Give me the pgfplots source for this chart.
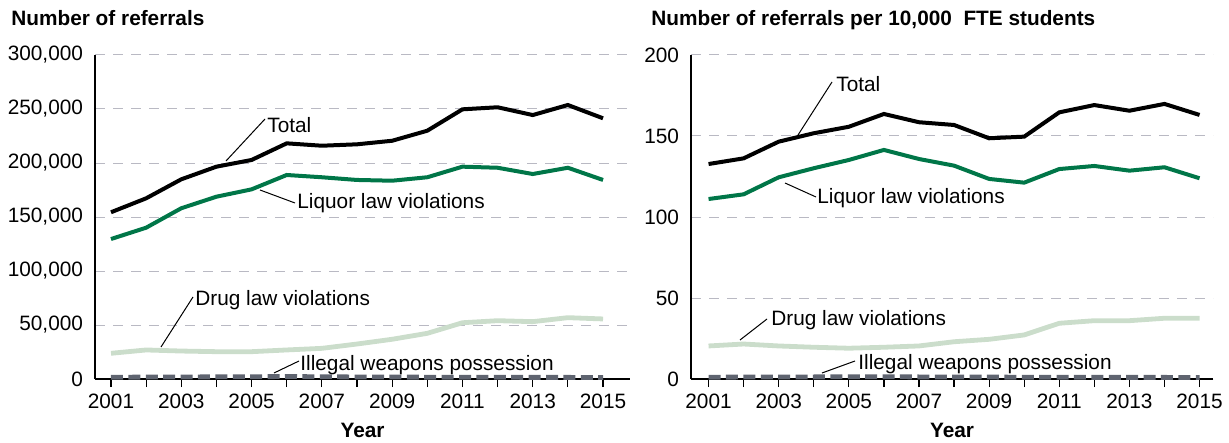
\documentclass[border=0pt]{standalone}
\usepackage{fontspec}
\setmainfont{Liberation Sans}
\usepackage{pgfplots}
\usepackage{pgfplotstable}
\pgfplotsset{compat=1.18}
\definecolor{liq}{RGB}{0,118,72}
\definecolor{drug}{RGB}{203,221,203}
\definecolor{weap}{RGB}{95,100,112}
\definecolor{gridc}{RGB}{185,185,195}
\newcommand{\lab}{\fontsize{10.4bp}{12bp}\selectfont}

\pgfplotstableread{
year total liquor drug weapons
2001 154400 129600 23800 1600
2002 167300 140100 26900 1800
2003 184900 158100 25900 1900
2004 196600 168800 25300 2000
2005 202800 175600 25300 2100
2006 218200 188900 26900 2300
2007 216000 186800 28400 2100
2008 217300 184300 32400 1900
2009 220600 183600 36800 1800
2010 229900 186800 42300 1700
2011 249700 196600 52100 1700
2012 251600 195600 54000 1600
2013 244400 189800 53100 1500
2014 253700 195600 56800 1500
2015 241400 184300 55600 1400
}\countdata

\pgfplotstableread{
year total liquor drug weapons
2001 132.7 111.1 20.4 1.1
2002 136.2 114.0 21.6 1.2
2003 146.5 124.5 20.4 1.2
2004 151.7 130.1 19.6 1.3
2005 155.7 135.2 19.0 1.4
2006 163.6 141.4 19.6 1.4
2007 158.5 135.8 20.4 1.3
2008 156.8 131.7 23.0 1.2
2009 148.6 123.5 24.5 1.2
2010 149.6 121.2 27.2 1.1
2011 164.6 129.6 34.4 1.1
2012 169.1 131.5 36.0 1.0
2013 165.6 128.6 36.0 1.0
2014 169.8 130.7 37.5 1.0
2015 163.0 123.9 37.5 0.9
}\ratedata

\pgfplotsset{
  mystyle/.style={
    scale only axis,
    height=162bp,
    axis x line*=bottom,
    axis y line*=left,
    axis line style={line width=0.6bp, black},
    xtick={2001,2003,...,2015},
    xticklabels={2001,2003,2005,2007,2009,2011,2013,2015},
    minor xtick={2002,2004,...,2014},
    tick align=outside,
    major tick length=4bp,
    minor tick length=4bp,
    xtick style={black, line width=0.6bp},
    ytick style={draw=none},
    ymajorgrids,
    major grid style={gridc, dash pattern=on 5bp off 4bp, line width=0.5bp},
    tick label style={font=\lab},
    yticklabel style={xshift=1.5bp},
    scaled ticks=false,
    ymin=0,
    clip=false,
  },
  tot/.style={black, line width=2bp},
  liqs/.style={liq, line width=2bp},
  drugs/.style={drug, line width=2.4bp},
  weaps/.style={weap, line width=2.4bp, dash pattern=on 6bp off 2.7bp},
}

\begin{document}
\begin{tikzpicture}[x=0.5bp, y=-0.5bp]
\useasboundingbox (0,0) rectangle (1229,443);

\begin{axis}[mystyle,
  at={(47.5bp,-189.5bp)}, anchor=south west,
  width=267.5bp,
  xmin=2000.545, xmax=2015.768,
  ymax=300000, ytick={0,50000,100000,150000,200000,250000,300000},
  yticklabels={0,{50,000},{100,000},{150,000},{200,000},{250,000},{300,000}},
]
\addplot[drugs] table[x=year, y=drug] {\countdata};
\addplot[weaps] table[x=year, y=weapons] {\countdata};
\addplot[liqs] table[x=year, y=liquor] {\countdata};
\addplot[tot] table[x=year, y=total] {\countdata};
\end{axis}

\begin{axis}[mystyle,
  at={(345.5bp,-189.5bp)}, anchor=south west,
  width=261bp,
  xmin=2000.50, xmax=2015.385,
  ymax=200, ytick={0,50,100,150,200},
  yticklabels={0,50,100,150,200},
]
\addplot[drugs] table[x=year, y=drug] {\ratedata};
\addplot[weaps] table[x=year, y=weapons] {\ratedata};
\addplot[liqs] table[x=year, y=liquor] {\ratedata};
\addplot[tot] table[x=year, y=total] {\ratedata};
\end{axis}

% titles
\node[anchor=base west, inner sep=0, font=\lab\bfseries] at (11,26) {Number of referrals};
\node[anchor=base west, inner sep=0, font=\lab\bfseries] at (651,26) {Number of referrals per 10,000\ \ FTE students};
% x labels
\node[anchor=base, inner sep=0, font=\lab\bfseries] at (362.5,437) {Year};
\node[anchor=base, inner sep=0, font=\lab\bfseries] at (952,437) {Year};

% annotations left
\draw[line width=0.5bp] (226,161) -- (265,119);
\node[anchor=base west, inner sep=0, font=\lab] at (267,133) {Total};
\draw[line width=0.5bp] (260,190) -- (295,203);
\node[anchor=base west, inner sep=0, font=\lab] at (297,209) {Liquor law violations};
\draw[line width=0.5bp] (161,347) -- (193,297);
\node[anchor=base west, inner sep=0, font=\lab] at (195,306) {Drug law violations};
\draw[line width=0.5bp] (274,373) -- (299,361);
\node[anchor=base west, inner sep=0, font=\lab] at (300,371) {Illegal weapons possession};

% annotations right
\draw[line width=0.5bp] (798,135) -- (832,82);
\node[anchor=base west, inner sep=0, font=\lab] at (836,92) {Total};
\draw[line width=0.5bp] (785,183) -- (816,197);
\node[anchor=base west, inner sep=0, font=\lab] at (817,204) {Liquor law violations};
\draw[line width=0.5bp] (740,340) -- (767,319);
\node[anchor=base west, inner sep=0, font=\lab] at (771,326) {Drug law violations};
\draw[line width=0.5bp] (822,373) -- (855,361);
\node[anchor=base west, inner sep=0, font=\lab] at (858,370) {Illegal weapons possession};
\end{tikzpicture}
\end{document}
